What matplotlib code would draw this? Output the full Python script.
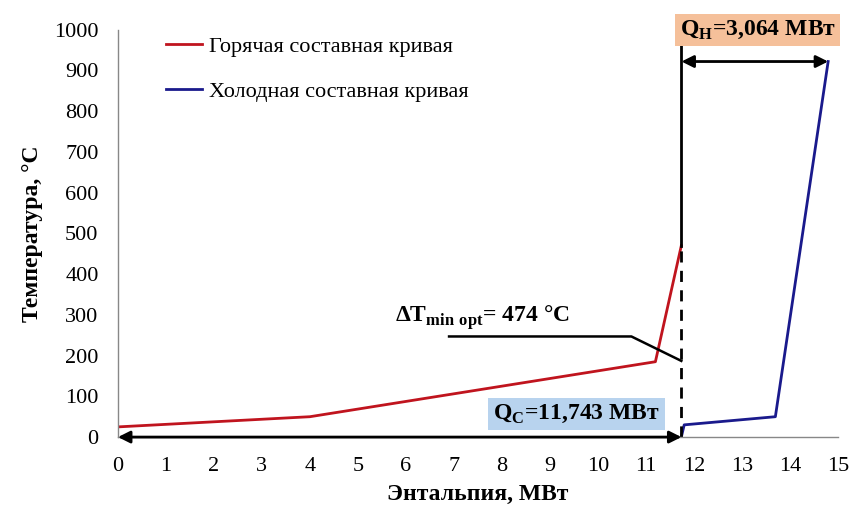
import matplotlib
matplotlib.use("Agg")
import matplotlib.pyplot as plt

# composite curves, enthalpy (MW) vs temperature (C)
hot_h = [0, 4.0, 11.2, 11.74]
hot_t = [25, 50, 185, 470]
cold_h = [11.74, 11.8, 13.7, 14.8]
cold_t = [0, 30, 50, 922]

q_c = 11.743
h_end = 14.8
t_arrow = 922
x_ticks = list(range(0, 16))
y_ticks = list(range(0, 1001, 100))

plt.rcParams['font.family'] = ['Liberation Serif', 'DejaVu Serif']
plt.rcParams['mathtext.fontset'] = 'custom'
plt.rcParams['mathtext.rm'] = 'Liberation Serif'
plt.rcParams['mathtext.bf'] = 'Liberation Serif:bold'

fig = plt.figure(figsize=(8.61, 5.13), dpi=100)
ax = fig.add_axes([0.137, 0.148, 0.836, 0.794])

ax.plot(hot_h, hot_t, color='#C0141E', lw=2, label='Горячая составная кривая')
ax.plot(cold_h, cold_t, color='#1A1A8C', lw=2, label='Холодная составная кривая')

ax.set_xlim(0, 15)
ax.set_ylim(0, 1000)
ax.set_xticks(x_ticks)
ax.set_yticks(y_ticks)
ax.tick_params(axis='x', length=0, labelsize=16, pad=14)
ax.tick_params(axis='y', length=0, labelsize=16, pad=14)
for s in ['top', 'right']:
    ax.spines[s].set_visible(False)
for s in ['left', 'bottom']:
    ax.spines[s].set_color('#888888')
    ax.spines[s].set_linewidth(1)

ax.set_xlabel('Энтальпия, МВт', fontsize=17, fontweight='bold', labelpad=6)
ax.set_ylabel('Температура, °С', fontsize=17, fontweight='bold', labelpad=8)

# pinch line: dashed below hot end, solid above
ax.plot([q_c, q_c], [0, hot_t[-1]], color='black', lw=2, ls=(0, (4, 3)))
ax.plot([q_c, q_c], [hot_t[-1], 1000], color='black', lw=2, clip_on=False)

arrow = dict(arrowstyle='<|-|>', color='black', lw=2, mutation_scale=18, shrinkA=0, shrinkB=0)
ax.annotate('', xy=(0, 0), xytext=(q_c, 0), arrowprops=arrow, annotation_clip=False)
ax.annotate('', xy=(q_c, t_arrow), xytext=(h_end, t_arrow), arrowprops=arrow)

ax.text(13.33, 1000, r'Q$_{\mathbf{H}}$=3,064 МВт', fontsize=17, fontweight='bold',
        ha='center', va='center',
        bbox=dict(boxstyle='square,pad=0.2', fc='#F5C09A', ec='none'))
ax.text(9.56, 56, r'Q$_{\mathbf{C}}$=11,743 МВт', fontsize=17, fontweight='bold',
        ha='center', va='center',
        bbox=dict(boxstyle='square,pad=0.2', fc='#B8D3EE', ec='none'))

ax.text(7.6, 283, r'ΔT$_{\mathbf{min\ opt}}$= 474 °C', fontsize=17, fontweight='bold',
        ha='center', va='baseline')
ax.plot([6.9, 10.7, 11.74], [247, 247, 187], color='black', lw=1.8)

ax.legend(loc='upper left', bbox_to_anchor=(0.055, 1.005), borderaxespad=0,
          frameon=False, fontsize=16, handlelength=1.6, handletextpad=0.3,
          labelspacing=1.1)

fig.savefig('out.png', dpi=100)
